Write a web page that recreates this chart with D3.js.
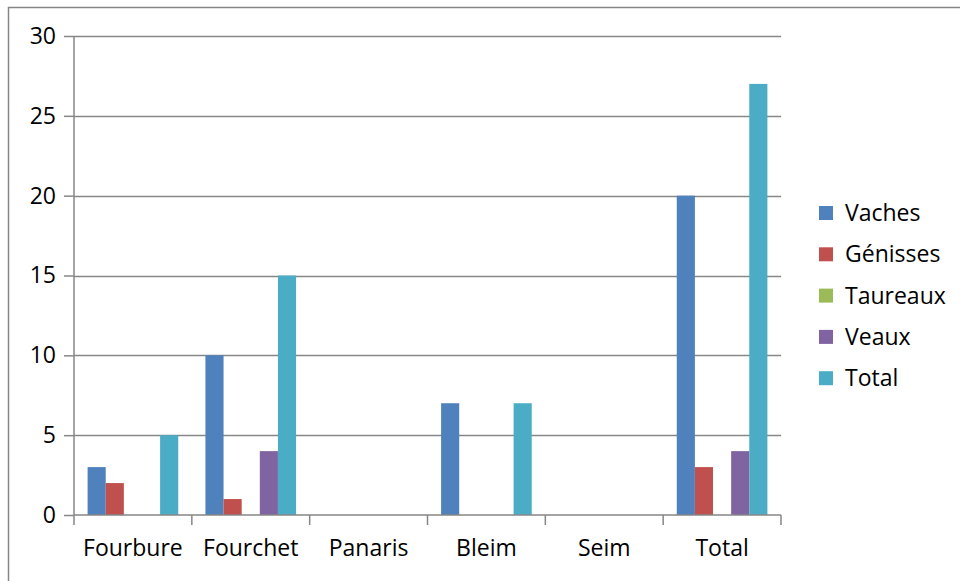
<!DOCTYPE html>
<html><head><meta charset="utf-8">
<script src="https://cdn.jsdelivr.net/npm/d3@7"></script>
<style>body{margin:0;background:#fff}svg{display:block}text{font-family:"Open Sans",sans-serif;fill:#000}</style>
</head><body>
<script>
const categories = ["Fourbure","Fourchet","Panaris","Bleim","Seim","Total"];
const seriesNames = ["Vaches","Génisses","Taureaux","Veaux","Total"];
const vaches   = [3,10,0,7,0,20];
const genisses = [2,1,0,0,0,3];
const taureaux = [0,0,0,0,0,0];
const veaux    = [0,4,0,0,0,4];
const totals   = [5,15,0,7,0,27];
const yTicks = [0,5,10,15,20,25,30];
const colors = ["#4F81BD","#C0504D","#9BBB59","#8064A2","#4BACC6"];
const seriesValues = [vaches,genisses,taureaux,veaux,totals];

(function(){
const W=960,H=581;
const FS="23px";
const svg=d3.select("body").append("svg").attr("width",W).attr("height",H);
svg.append("rect").attr("x",8.5).attr("y",7.5).attr("width",W).attr("height",H+10).attr("fill","none").attr("stroke","#868686").attr("stroke-width",1.5);

const pL=74,pR=781,pT=36,pB=515;
const x=d3.scaleBand().domain(categories).range([pL,pR]).paddingInner(0).paddingOuter(0);
const y=d3.scaleLinear().domain([0,30]).range([pB,pT]);
const bw=x.bandwidth()/6.5;
const xs=d3.scaleBand().domain(seriesNames).range([0.75*bw,0.75*bw+5*bw]);

svg.append("g").selectAll("line").data(yTicks.filter(d=>d>0)).join("line")
 .attr("x1",pL).attr("x2",pR).attr("y1",d=>Math.round(y(d))+0.5).attr("y2",d=>Math.round(y(d))+0.5)
 .attr("stroke","#868686").attr("stroke-width",1.5);

seriesNames.forEach((s,i)=>{
  svg.append("g").selectAll("rect").data(categories).join("rect")
   .attr("x",c=>x(c)+xs(s)).attr("width",xs.bandwidth())
   .attr("y",(c,j)=>y(seriesValues[i][j])).attr("height",(c,j)=>y(0)-y(seriesValues[i][j]))
   .attr("fill",colors[i]);
});

const ya=svg.append("g").attr("transform",`translate(${pL},0)`).call(d3.axisLeft(y).tickValues(yTicks).tickSize(10).tickPadding(8).tickFormat(d3.format("d")));
ya.attr("font-family","Open Sans").attr("font-size",23);
ya.selectAll("path,line").attr("stroke","#868686").attr("stroke-width",1.5);
ya.selectAll("text").style("font-size",FS).attr("fill","#000");
ya.select(".domain").attr("d",`M0,${pT}V${pB}`);

const xa=svg.append("g").attr("transform",`translate(0,${pB})`).call(d3.axisBottom(x).tickSize(0).tickPadding(25));
xa.attr("font-family","Open Sans").attr("font-size",23);
xa.selectAll("path").attr("stroke","#868686").attr("stroke-width",1.5);
xa.select(".domain").attr("d",`M${pL},0H${pR}`);
xa.selectAll("text").style("font-size",FS).attr("fill","#000");
xa.append("g").selectAll("line").data(categories.map(c=>x(c)).concat([pR])).join("line")
 .attr("x1",d=>d).attr("x2",d=>d).attr("y1",0).attr("y2",10).attr("stroke","#868686").attr("stroke-width",1.5);

const lg=svg.append("g").attr("transform","translate(819,206)");
seriesNames.forEach((s,i)=>{
  const g=lg.append("g").attr("transform",`translate(0,${i*41.3})`);
  g.append("rect").attr("width",14).attr("height",14).attr("fill",colors[i]);
  g.append("text").attr("x",26).attr("y",7).attr("dy","0.35em").style("font-size",FS).text(s);
});
})();
</script>
</body></html>
